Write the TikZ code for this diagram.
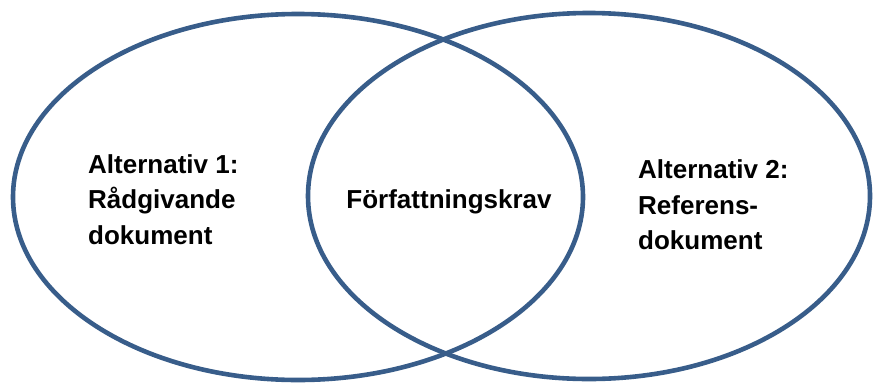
\documentclass[tikz,border=0pt]{standalone}
\usepackage{fontspec}
\setmainfont{Liberation Sans}
\usepackage{tikz}
\usetikzlibrary{positioning, shapes.geometric}
\definecolor{ringblue}{HTML}{385D8A}

\begin{document}
\begin{tikzpicture}[x=1pt, y=-1pt,
  ring/.style={ellipse, draw=ringblue, line width=4.6pt, inner sep=0pt},
  alttext/.style={font=\fontsize{26}{35.5}\selectfont\bfseries,
                  align=left, inner sep=0pt, anchor=base west}
]
  \useasboundingbox (0,0) rectangle (874,383);
  \node[ring, minimum width=570pt, minimum height=366pt] (alt1) at (298,197) {};
  \node[ring, minimum width=562pt, minimum height=366pt] (alt2) at (589,196) {};

  \node[alttext] (text1) at (88,244) {Alternativ 1:\\Rådgivande\\dokument};
  \node[alttext, anchor=base] (krav) at (449,208) {Författningskrav};
  \node[alttext] (text2) at (638,249.5) {Alternativ 2:\\Referens-\\dokument};
\end{tikzpicture}
\end{document}
